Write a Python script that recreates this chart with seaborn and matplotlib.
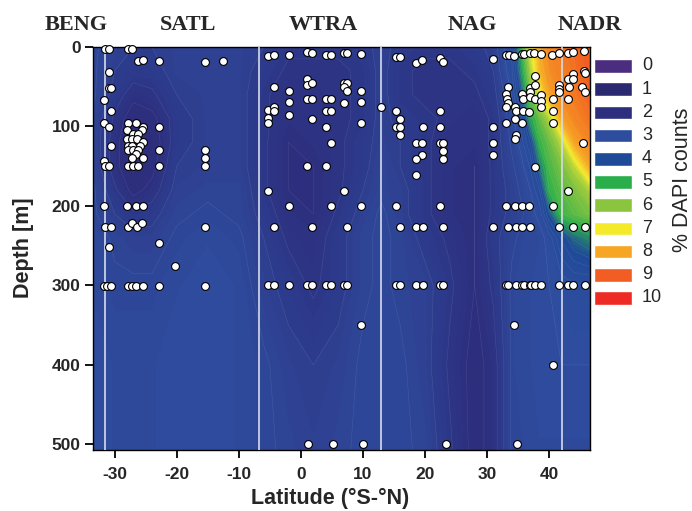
import numpy as np
import matplotlib
matplotlib.use("Agg")
import matplotlib.pyplot as plt
from matplotlib.colors import LinearSegmentedColormap
import seaborn as sns

# ---------------- data ----------------
# gridded % DAPI counts (rows = depth, columns = latitude)
grid_lat = [-33.5, -30, -27, -24, -20, -15, -10, -6, -2, 2, 6, 10, 13, 16, 20, 24, 28, 31,
            34, 35.5, 37, 38.5, 40, 42, 44, 46.6]
grid_depth = [0, 30, 60, 90, 120, 150, 180, 210, 240, 300, 400, 510]
dapi_pct = [
    [2.8, 2.6, 2.5, 2.5, 2.6, 2.6, 2.6, 2.5, 2.3, 2.3, 2.3, 2.4, 2.6, 2.4, 2.3, 2.3, 2.4, 2.6, 3.3, 5.0, 6.8, 8.0, 8.4, 8.6, 8.8, 9.0],
    [2.8, 2.5, 2.4, 2.4, 2.6, 2.6, 2.6, 2.4, 2.2, 2.2, 2.2, 2.3, 2.6, 2.3, 2.2, 2.2, 2.3, 2.5, 3.2, 4.6, 6.2, 7.8, 8.3, 8.5, 8.7, 9.0],
    [2.8, 2.4, 2.1, 2.2, 2.5, 2.6, 2.6, 2.3, 2.1, 2.1, 2.2, 2.3, 2.6, 2.3, 2.2, 2.2, 2.2, 2.4, 3.0, 4.0, 5.6, 6.8, 8.0, 8.4, 8.6, 8.9],
    [2.7, 2.2, 1.8, 1.9, 2.4, 2.6, 2.6, 2.3, 2.1, 2.1, 2.2, 2.3, 2.6, 2.4, 2.3, 2.2, 2.1, 2.3, 2.9, 3.4, 4.8, 5.6, 6.3, 8.0, 8.4, 8.7],
    [2.7, 2.1, 1.7, 1.8, 2.4, 2.6, 2.6, 2.3, 2.0, 2.1, 2.2, 2.4, 2.6, 2.5, 2.3, 2.1, 2.1, 2.3, 2.8, 3.1, 3.8, 5.1, 5.6, 6.4, 8.0, 8.4],
    [2.7, 2.1, 1.7, 1.9, 2.5, 2.6, 2.6, 2.3, 2.0, 2.0, 2.2, 2.4, 2.7, 2.5, 2.3, 2.1, 2.0, 2.3, 2.7, 2.9, 3.3, 4.4, 5.3, 5.8, 6.4, 8.0],
    [2.8, 2.3, 1.9, 2.1, 2.6, 2.7, 2.7, 2.3, 2.0, 2.0, 2.2, 2.5, 2.7, 2.6, 2.3, 2.1, 2.0, 2.3, 2.6, 2.8, 3.0, 3.5, 5.0, 5.5, 5.8, 6.3],
    [2.8, 2.5, 2.3, 2.4, 2.7, 2.8, 2.7, 2.4, 2.1, 2.0, 2.3, 2.6, 2.8, 2.6, 2.3, 2.1, 2.0, 2.3, 2.6, 2.7, 2.9, 3.1, 4.0, 5.2, 5.5, 5.8],
    [2.9, 2.7, 2.6, 2.6, 2.8, 2.9, 2.8, 2.5, 2.2, 2.1, 2.4, 2.7, 2.8, 2.7, 2.4, 2.2, 2.0, 2.4, 2.7, 2.8, 2.9, 2.9, 3.1, 3.8, 4.3, 4.6],
    [2.9, 2.8, 2.8, 2.8, 2.9, 3.0, 2.9, 2.6, 2.4, 2.2, 2.4, 2.7, 2.8, 2.7, 2.6, 2.3, 2.0, 2.3, 2.8, 2.9, 2.9, 3.0, 3.0, 3.1, 3.2, 3.2],
    [3.0, 2.9, 2.9, 2.9, 3.0, 3.0, 2.9, 2.8, 2.6, 2.5, 2.6, 2.8, 2.8, 2.8, 2.6, 2.2, 1.9, 2.1, 2.8, 2.9, 2.9, 3.0, 3.0, 3.0, 3.0, 3.0],
    [3.0, 2.9, 2.9, 2.9, 3.0, 3.0, 2.9, 2.8, 2.7, 2.6, 2.7, 2.8, 2.8, 2.8, 2.7, 2.3, 1.9, 2.1, 2.8, 2.8, 2.9, 2.9, 2.9, 2.9, 2.9, 2.9],
]

# sampling stations: latitude (°S-°N) and depth (m)
sample_lat = [
    # BENG
    -31.5, -30.9, -31.0, -30.9, -30.6, -31.8, -30.6, -31.8, -31.0, -30.6, -31.8, -31.5, -31.0,
    -31.8, -31.5, -30.6, -31.0, -31.8, -31.3, -30.6,
    # SATL
    -27.9, -27.2, -26.3, -25.5, -22.9, -15.5, -12.5,
    -27.9, -26.5, -25.4, -22.9, -28.0, -25.6, -27.1, -26.3, -28.0, -27.2, -26.4, -25.4,
    -27.9, -27.2, -25.9, -27.9, -27.1, -26.3, -22.9, -26.6, -27.2, -25.4,
    -27.9, -27.1, -26.3, -22.9, -15.5, -15.5, -15.5,
    -28.0, -26.5, -25.4, -27.9, -27.2, -26.4, -25.6, -22.9, -20.3, -15.5,
    -27.9, -27.2, -26.5, -25.5, -22.9, -15.5,
    # WTRA
    -5.3, -4.4, -1.85, 0.95, 1.85, 4.0, 4.9, 6.9, 7.4, 9.7,
    -4.4, -1.85, 0.95, 0.95, 1.85, 6.9, 7.4, 6.9, 7.4, 9.7,
    -1.85, 0.95, 1.85, 4.0, 4.9, 6.9, 9.7, 12.9,
    -5.3, -4.4, -4.4, -5.3, -5.3, -1.85, 4.0, 4.9, 1.85, 9.7, 4.0, 4.9, 0.95, 4.0,
    -5.3, 7.0, -1.85, 4.9, 9.7, -4.4, 1.85, 7.4,
    -5.3, -4.4, -1.85, 0.95, 1.85, 4.06, 4.86, 7.0, 7.4, 9.7, 1.2, 5.1, 10.0,
    # NAG
    15.4, 16.0, 18.5, 19.6, 22.4, 22.9, 30.9,
    15.4, 22.4, 16.0, 15.4, 16.0, 19.7, 22.4, 30.9,
    16.0, 18.5, 19.6, 22.4, 22.9, 30.9, 22.9, 19.6, 30.9, 18.5, 22.9, 18.5,
    15.4, 22.4, 16.0, 18.5, 19.7, 22.9, 30.9,
    15.4, 16.0, 18.5, 19.7, 22.4, 22.9, 23.4,
    # NAG / NADR transition and NADR
    33.1, 33.5, 34.4, 35.7, 36.0, 36.9, 37.6, 38.7, 40.5, 41.6, 43.0, 43.8, 45.6,
    37.8, 43.8, 43.0, 43.8, 45.6, 45.8, 45.3, 45.8, 43.2, 41.6, 41.6, 41.6,
    33.4, 36.9, 37.7, 36.9, 33.1, 33.2, 33.4, 33.1,
    35.7, 35.8, 36.9, 37.7, 38.7, 38.7, 38.7, 40.6, 43.1,
    34.5, 34.7, 35.8, 36.8, 40.6, 33.1, 34.5, 35.6, 40.6, 34.7, 34.5,
    45.5, 37.8, 43.1,
    33.1, 34.5, 35.6, 36.8, 40.6,
    33.4, 34.7, 35.7, 36.9, 41.6, 43.8, 45.8,
    33.0, 33.4, 34.7, 35.6, 35.9, 36.9, 37.1, 37.8, 38.7, 41.6, 43.1, 43.8, 45.8,
    34.4, 40.6, 34.8,
]
sample_depth = [
    # BENG
    2, 2, 31, 51, 51, 67, 81, 96, 101, 125, 144, 150, 150,
    200, 226, 226, 251, 301, 301, 301,
    # SATL
    2, 2, 18, 16, 18, 19, 18,
    95, 95, 101, 101, 105, 105, 110, 110, 116, 116, 116, 120,
    125, 125, 125, 130, 130, 130, 130, 135, 140, 140,
    150, 150, 150, 150, 130, 140, 150,
    200, 200, 200, 226, 221, 226, 221, 246, 276, 226,
    301, 301, 301, 301, 301, 301,
    # WTRA
    11, 10, 10, 6, 8, 10, 10, 7, 7, 9,
    50, 55, 40, 48, 45, 45, 45, 50, 55, 55,
    69, 65, 65, 65, 65, 70, 69, 75,
    79, 75, 81, 89, 96, 86, 81, 81, 90, 96, 101, 121, 150, 150,
    181, 181, 200, 200, 200, 226, 226, 226,
    300, 300, 300, 300, 300, 300, 300, 300, 300, 350, 500, 500, 500,
    # NAG
    13, 13, 20, 16, 14, 19, 15,
    80, 80, 91, 101, 101, 101, 101, 101,
    111, 121, 121, 121, 121, 121, 131, 136, 136, 141, 141, 161,
    200, 200, 226, 226, 226, 226, 226,
    300, 300, 300, 300, 300, 300, 500,
    # NAG / NADR transition and NADR
    10, 10, 11, 9, 9, 8, 8, 9, 10, 7, 7, 6, 5,
    36, 34, 40, 40, 30, 33, 50, 56, 50, 48, 53, 57,
    50, 52, 48, 57, 59, 65, 70, 75,
    59, 66, 63, 66, 60, 68, 76, 66, 66,
    75, 80, 80, 82, 80, 95, 90, 95, 96, 111, 116,
    121, 151, 181,
    200, 200, 200, 200, 200,
    226, 226, 226, 226, 226, 226, 226,
    300, 300, 300, 300, 300, 300, 300, 300, 300, 300, 300, 300, 300,
    350, 400, 500,
]

# province boundaries and names
boundary_lat = [-31.6, -6.8, 12.9, 42.1]
province_names = ["BENG", "SATL", "WTRA", "NAG", "NADR"]

# colour key
key_levels = list(range(11))
key_colors = ["#4B2D7F", "#2B2A70", "#2D2E7E", "#2E4D9F", "#1F4A98", "#2AAE4B",
              "#8BC53F", "#F4EA2A", "#F6A623", "#F15D22", "#EE2A24"]

x_ticks = [-30, -20, -10, 0, 10, 20, 30, 40]
y_ticks = [0, 100, 200, 300, 400, 500]

# ---------------- figure ----------------
sns.set_style("ticks")
plt.rcParams["font.family"] = ["Liberation Sans", "DejaVu Sans"]

W, H = 692, 511
fig = plt.figure(figsize=(W / 100, H / 100), dpi=100)

def fx(px):
    return px / W

def fy(py):
    return 1 - py / H

ax_l, ax_r, ax_t, ax_b = 93, 590, 47, 450
ax = fig.add_axes([fx(ax_l), fy(ax_b), fx(ax_r - ax_l), (ax_b - ax_t) / H])

cmap = LinearSegmentedColormap.from_list(
    "dapi", [(v / 10, c) for v, c in zip(key_levels, key_colors)])

LON, DEP = np.meshgrid(grid_lat, grid_depth)
Z = np.array(dapi_pct)
ax.contourf(LON, DEP, Z, levels=np.linspace(0, 10, 121), cmap=cmap, vmin=0, vmax=10, zorder=1)
ax.contour(LON, DEP, Z, levels=np.arange(1.5, 10, 0.25), colors="white",
           linewidths=0.4, alpha=0.10, zorder=2)

for b in boundary_lat:
    ax.axvline(b, color="#D8DCEB", lw=1.4, alpha=0.85, zorder=3)

sns.scatterplot(x=sample_lat, y=sample_depth, ax=ax, color="white", edgecolor="black",
                s=32, linewidth=0.8, zorder=5, clip_on=False, legend=False)

ax.set_xlim(-33.5, 46.6)
ax.set_ylim(507, 0)
ax.set_xticks(x_ticks)
ax.set_yticks(y_ticks)
ax.set_xticklabels([str(t) for t in x_ticks])
ax.set_yticklabels([str(t) for t in y_ticks])
ax.tick_params(axis="both", direction="out", length=5.5, width=1.3, labelsize=12.5,
               color="black")
ax.tick_params(axis="x", pad=6.5)
ax.tick_params(axis="y", pad=3.5)
for lab in ax.get_xticklabels() + ax.get_yticklabels():
    lab.set_fontweight("bold")
for sp in ax.spines.values():
    sp.set_visible(True)
    sp.set_linewidth(1.0)
    sp.set_color("black")
ax.set_xlabel("")
ax.set_ylabel("")

fig.text(fx(24), fy(248), "Depth [m]", rotation=90, ha="center", va="center",
         fontsize=15.5, fontweight="bold")
fig.text(fx(330), fy(498), "Latitude (°S-°N)", ha="center", va="center",
         fontsize=15.5, fontweight="bold")

# province labels above the section
name_px = [76, 188, 323, 472, 590]
for name, px in zip(province_names, name_px):
    fig.text(fx(px), fy(25), name, ha="center", va="center", fontsize=16,
             fontweight="bold", family=["Liberation Serif", "DejaVu Serif"])

# colour key
key_top, row_h = 54.4, 23.2
lax = fig.add_axes([fx(594), fy(key_top + row_h * 11), fx(38), row_h * 11 / H])
lax.barh(key_levels, [1] * len(key_levels), height=0.58, left=0, color=key_colors)
lax.set_xlim(0, 1)
lax.set_ylim(10.5, -0.5)
lax.axis("off")
for lv in key_levels:
    lax.text(1.26, lv, str(lv), ha="left", va="center", fontsize=13, clip_on=False)
fig.text(fx(682), fy(180), "% DAPI counts", rotation=90, ha="center", va="center",
         fontsize=15.5)

fig.savefig("out.png", dpi=100)
